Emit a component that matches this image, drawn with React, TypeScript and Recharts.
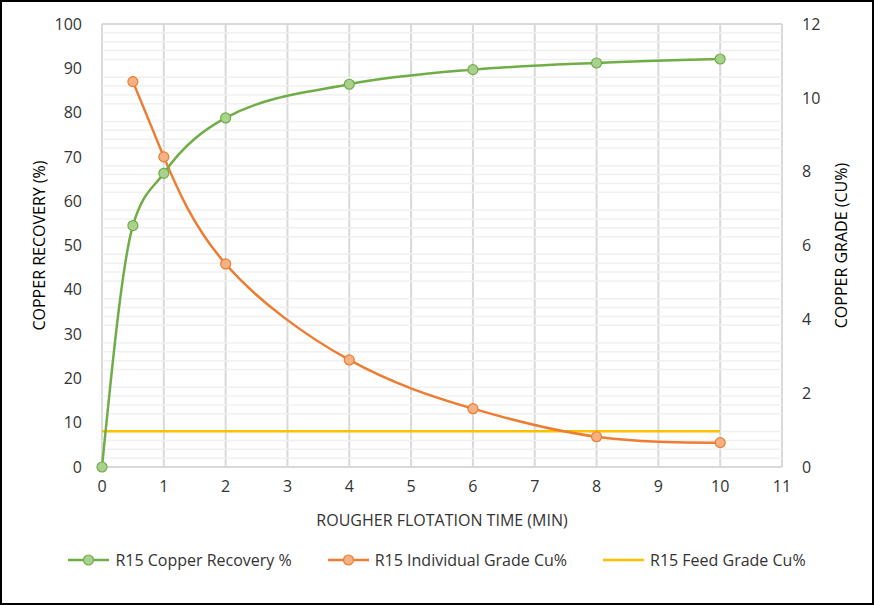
import {
  ComposedChart,
  Line,
  XAxis,
  YAxis,
  CartesianGrid,
  ReferenceLine,
  Legend,
} from "recharts";

const times = [0, 0.5, 1, 2, 4, 6, 8, 10];
const recovery = [0, 54.5, 66.3, 78.8, 86.4, 89.7, 91.2, 92.1];
const grade = [null, 10.44, 8.4, 5.5, 2.9, 1.58, 0.82, 0.66];
const feedGrade = [0.97, 0.97, 0.97, 0.97, 0.97, 0.97, 0.97, 0.97];

const xTicks = [0, 1, 2, 3, 4, 5, 6, 7, 8, 9, 10, 11];
const leftTicks = [0, 10, 20, 30, 40, 50, 60, 70, 80, 90, 100];
const rightTicks = [0, 2, 4, 6, 8, 10, 12];
const minorTicks = [
  2, 4, 6, 8, 12, 14, 16, 18, 22, 24, 26, 28, 32, 34, 36, 38, 42, 44, 46, 48,
  52, 54, 56, 58, 62, 64, 66, 68, 72, 74, 76, 78, 82, 84, 86, 88, 92, 94, 96, 98,
];

const legendItems = [
  { name: "R15 Copper Recovery %", stroke: "#70ad47", fill: "#a9d18e", dot: true },
  { name: "R15 Individual Grade Cu%", stroke: "#ed7d31", fill: "#f4b183", dot: true },
  { name: "R15 Feed Grade Cu%", stroke: "#ffc000", fill: "", dot: false },
];

const data = times.map((t, i) => ({
  t,
  recovery: recovery[i],
  grade: grade[i],
  feed: feedGrade[i],
}));

const FONT = "'Open Sans', sans-serif";
const tickStyle = { fontSize: 16, fill: "#333", fontFamily: FONT };

export default function App() {
  return (
    <div
      style={{
        position: "absolute",
        left: 0,
        top: 0,
        width: 874,
        height: 605,
        boxSizing: "border-box",
        border: "2px solid #000",
        background: "#fff",
        fontFamily: FONT,
      }}
    >
      <ComposedChart
        width={870}
        height={601}
        data={data}
        margin={{ top: 22, right: 18, left: 18, bottom: 18 }}
      >
        {minorTicks.map((v) => (
          <ReferenceLine
            key={v}
            y={v}
            yAxisId="left"
            stroke="#f0f0f0"
            strokeWidth={1.5}
            ifOverflow="hidden"
          />
        ))}
        <CartesianGrid stroke="#d9d9d9" strokeWidth={2} />
        <XAxis
          dataKey="t"
          type="number"
          domain={[0, 11]}
          ticks={xTicks}
          axisLine={false}
          tickLine={false}
          tick={tickStyle}
          tickMargin={8}
          height={70}
          label={{
            value: "ROUGHER FLOTATION TIME (MIN)",
            position: "insideBottom",
            offset: 11,
            style: { fontSize: 16, fill: "#333", fontFamily: FONT },
          }}
        />
        <YAxis
          yAxisId="left"
          domain={[0, 100]}
          ticks={leftTicks}
          axisLine={false}
          tickLine={false}
          tick={tickStyle}
          tickMargin={14}
          width={82}
          label={{
            value: "COPPER RECOVERY (%)",
            angle: -90,
            position: "insideLeft",
            offset: 19,
            style: {
              fontSize: 16,
              fill: "#000",
              fontFamily: FONT,
              textAnchor: "middle",
            },
          }}
        />
        <YAxis
          yAxisId="right"
          orientation="right"
          domain={[0, 12]}
          ticks={rightTicks}
          axisLine={false}
          tickLine={false}
          tick={tickStyle}
          tickMargin={14}
          width={72}
          label={{
            value: "COPPER GRADE (CU%)",
            angle: -90,
            position: "insideRight",
            offset: 13,
            style: {
              fontSize: 16,
              fill: "#000",
              fontFamily: FONT,
              textAnchor: "middle",
            },
          }}
        />
        <Legend
          verticalAlign="bottom"
          height={48}
          content={() => (
            <div
              style={{
                display: "flex",
                justifyContent: "center",
                gap: 36,
                fontSize: 16,
                color: "#333",
                fontFamily: FONT,
                paddingTop: 12,
              }}
            >
              {legendItems.map((s) => (
                <div key={s.name} style={{ display: "flex", alignItems: "center", gap: 6 }}>
                  <svg width={41} height={14}>
                    <line x1={0} y1={7} x2={41} y2={7} stroke={s.stroke} strokeWidth={2.5} />
                    {s.dot && (
                      <circle cx={20.5} cy={7} r={5} fill={s.fill} stroke={s.stroke} strokeWidth={1.2} />
                    )}
                  </svg>
                  <span>{s.name}</span>
                </div>
              ))}
            </div>
          )}
        />
        <Line
          yAxisId="right"
          dataKey="feed"
          name="R15 Feed Grade Cu%"
          stroke="#ffc000"
          strokeWidth={2.5}
          dot={false}
          type="linear"
          isAnimationActive={false}
        />
        <Line
          yAxisId="right"
          dataKey="grade"
          name="R15 Individual Grade Cu%"
          stroke="#ed7d31"
          strokeWidth={2.5}
          type="natural"
          dot={{ r: 5, fill: "#f4b183", stroke: "#ed7d31", strokeWidth: 1.2 }}
          connectNulls
          isAnimationActive={false}
        />
        <Line
          yAxisId="left"
          dataKey="recovery"
          name="R15 Copper Recovery %"
          stroke="#70ad47"
          strokeWidth={2.5}
          type="monotone"
          dot={{ r: 5, fill: "#a9d18e", stroke: "#70ad47", strokeWidth: 1.2 }}
          isAnimationActive={false}
        />
      </ComposedChart>
    </div>
  );
}
